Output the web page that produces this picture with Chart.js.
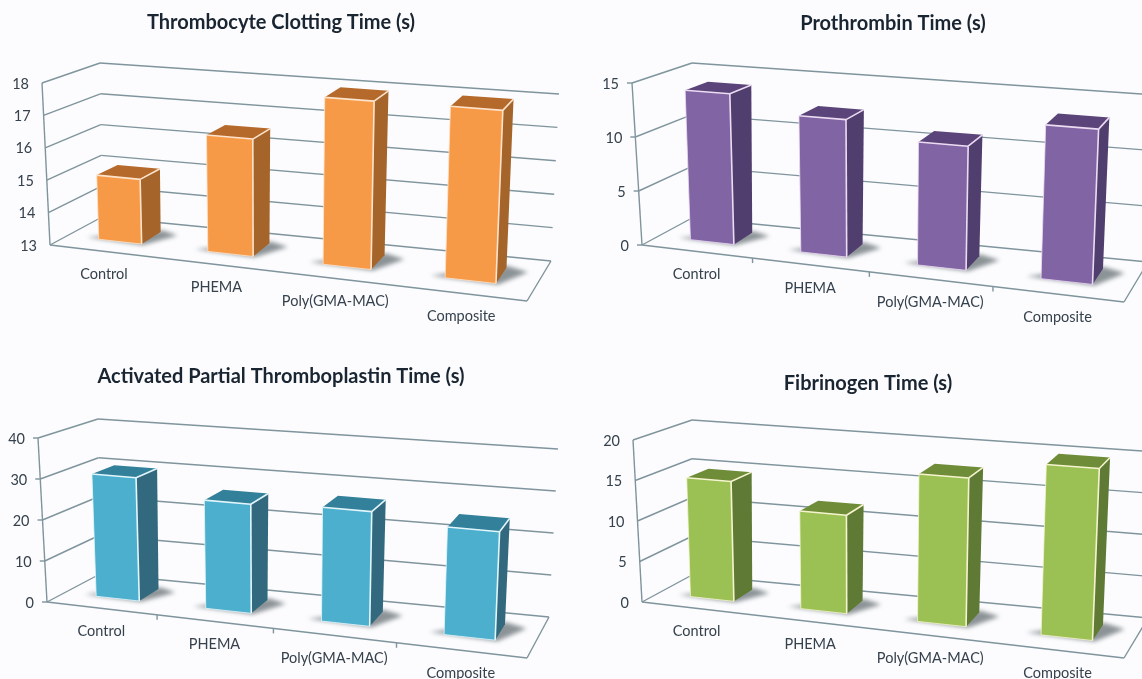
<!DOCTYPE html>
<html lang="en">
<head>
    <meta charset="UTF-8">
    <title>Coagulation times</title>
    <script src="https://cdn.jsdelivr.net/npm/chart.js"></script>
    <style>
        html, body {
            margin: 0;
            width: 1142px;
            height: 679px;
            overflow: hidden;
            background: #fcfcfe;
        }
        canvas {
            position: absolute;
        }
    </style>
</head>
<body>
    <canvas id="thrombocyte" width="562" height="340" style="left:0;top:10px"></canvas>
    <canvas id="prothrombin" width="586" height="340" style="left:600px;top:11px"></canvas>
    <canvas id="aptt" width="562" height="315" style="left:0;top:364px"></canvas>
    <canvas id="fibrinogen" width="556" height="308" style="left:590px;top:371px"></canvas>

    <script>
        const categories = ['Control', 'PHEMA', 'Poly(GMA-MAC)', 'Composite'];

        const thrombocyteValues = [15, 16.55, 17.98, 18];
        const prothrombinValues = [13.95, 12.45, 11, 13.45];
        const apttValues = [30.2, 26.2, 27, 25];
        const fibrinogenValues = [14.8, 11.9, 17.6, 19.9];

        const frontColors = ['#f79a48', '#8164a4', '#4bafcd', '#9bc155'];
        const sideColors = ['#a5642a', '#503e6e', '#33697e', '#5f7a35'];
        const topColors = ['#b56a2b', '#5a4479', '#32809a', '#6f8c38'];
        const edgeColors = ['#fde3cc', '#ecdcf2', '#e2f6fc', '#f6f4cf'];

        const gridColor = '#7f949c';
        const textColor = '#35414c';
        const titleColor = '#1a2532';

        // floor and wall corners of each 3D box, in page pixels
        const boxes = {
            thrombocyte: {
                flb: [50, 245], flt: [42, 83], blb: [102, 217], blt: [100, 63],
                frb: [527, 301], frt: [535, 123], brb: [551, 261], brt: [559, 94]
            },
            prothrombin: {
                flb: [642, 245], flt: [632, 83], blb: [692, 218], blt: [692, 63],
                frb: [1124, 302], frt: [1132, 124], brb: [1148, 262], brt: [1156, 95],
                marks: true
            },
            aptt: {
                flb: [47, 602], flt: [38, 438], blb: [100, 574], blt: [98, 419],
                frb: [527, 658], frt: [535, 480], brb: [549, 617], brt: [558, 449],
                marks: true
            },
            fibrinogen: {
                flb: [642, 602], flt: [633, 440], blb: [692, 575], blt: [692, 420],
                frb: [1124, 658], frt: [1132, 480], brb: [1148, 618], brt: [1156, 452]
            }
        };

        const barFrontDepth = 0.33;
        const barBackDepth = 0.73;
        const foreshorten = 0.12; // categories get wider towards the viewer

        const mix = (a, b, t) => [a[0] + (b[0] - a[0]) * t, a[1] + (b[1] - a[1]) * t];

        // u along the categories, v up the value axis, d from front (0) to back (1)
        function project(box, u, v, d) {
            const s = u / (1 + foreshorten * (1 - u));
            const front = mix(mix(box.flb, box.frb, s), mix(box.flt, box.frt, s), v);
            const back = mix(mix(box.blb, box.brb, s), mix(box.blt, box.brt, s), v);
            return mix(front, back, d);
        }

        function polygon(ctx, pts) {
            ctx.beginPath();
            pts.forEach((p, i) => i ? ctx.lineTo(p[0], p[1]) : ctx.moveTo(p[0], p[1]));
            ctx.closePath();
        }

        function stroke(ctx, a, b) {
            ctx.beginPath();
            ctx.moveTo(a[0], a[1]);
            ctx.lineTo(b[0], b[1]);
            ctx.stroke();
        }

        // walls, floor and tick labels, all taken from the chart's hidden scales
        const walls = {
            id: 'walls',
            beforeDatasetsDraw(chart) {
                const { ctx, chartArea, scales } = chart;
                const box = chart.options.plugins.walls.box;
                const left = chart.canvas.offsetLeft;
                const top = chart.canvas.offsetTop;
                const at = (u, v, d) => {
                    const p = project(box, u, v, d);
                    return [p[0] - left, p[1] - top];
                };

                ctx.save();
                ctx.strokeStyle = gridColor;
                ctx.lineWidth = 1.4;
                ctx.font = '14.5px Lato';
                ctx.fillStyle = textColor;
                ctx.textBaseline = 'middle';

                scales.y.ticks.forEach((tick, i) => {
                    const v = (chartArea.bottom - scales.y.getPixelForTick(i)) / chartArea.height;
                    const corner = at(0, v, 0);
                    stroke(ctx, corner, at(0, v, 1));
                    stroke(ctx, at(0, v, 1), at(1, v, 1));
                    if (box.marks) stroke(ctx, corner, [corner[0] - 5, corner[1]]);
                    ctx.textAlign = 'right';
                    ctx.fillText(tick.label, corner[0] - 13, corner[1] + 1);
                });

                stroke(ctx, at(0, 0, 0), at(0, 1, 0));
                stroke(ctx, at(0, 0, 0), at(1, 0, 0));
                stroke(ctx, at(1, 0, 0), at(1, 0, 1));

                ctx.textAlign = 'center';
                categories.forEach((name, i) => {
                    const u = (scales.x.getPixelForTick(i) - chartArea.left) / chartArea.width;
                    const p = at(u, 0, 0);
                    ctx.fillText(name, p[0], p[1] + 23);
                    if (box.marks && i > 0) {
                        const m = at(i / categories.length, 0, 0);
                        stroke(ctx, m, [m[0], m[1] + 5]);
                    }
                });
                ctx.restore();
            },

            // replaces the flat bars with boxes standing on the floor
            beforeDatasetDraw(chart, args) {
                const { ctx, chartArea } = chart;
                const box = chart.options.plugins.walls.box;
                const shade = chart.options.plugins.walls.shade;
                const left = chart.canvas.offsetLeft;
                const top = chart.canvas.offsetTop;
                const at = (u, v, d) => {
                    const p = project(box, u, v, d);
                    return [p[0] - left, p[1] - top];
                };

                args.meta.data.forEach(bar => {
                    const u0 = (bar.x - bar.width / 2 - chartArea.left) / chartArea.width;
                    const u1 = (bar.x + bar.width / 2 - chartArea.left) / chartArea.width;
                    const v = (chartArea.bottom - bar.y) / chartArea.height;
                    const d0 = barFrontDepth;
                    const d1 = barBackDepth;

                    ctx.save();
                    ctx.filter = 'blur(2px)';
                    ctx.fillStyle = 'rgba(80,90,95,0.65)';
                    polygon(ctx, [at(u0 - 0.03, 0, d0 + 0.02), at(u1 + 0.005, 0, d0 - 0.02),
                        at(u1 + 0.045, 0, d1 - 0.05), at(u1, 0, d1 + 0.05)]);
                    ctx.fill();
                    ctx.restore();

                    ctx.save();
                    ctx.fillStyle = sideColors[shade];
                    polygon(ctx, [at(u1, 0, d0), at(u1, 0, d1), at(u1, v, d1), at(u1, v, d0)]);
                    ctx.fill();
                    ctx.fillStyle = topColors[shade];
                    polygon(ctx, [at(u0, v, d0), at(u1, v, d0), at(u1, v, d1), at(u0, v, d1)]);
                    ctx.fill();
                    ctx.fillStyle = bar.options.backgroundColor;
                    polygon(ctx, [at(u0, 0, d0), at(u1, 0, d0), at(u1, v, d0), at(u0, v, d0)]);
                    ctx.fill();

                    ctx.strokeStyle = edgeColors[shade];
                    ctx.lineWidth = 1.6;
                    stroke(ctx, at(u0, v, d0), at(u1, v, d0));
                    stroke(ctx, at(u1, v, d0), at(u1, 0, d0));
                    stroke(ctx, at(u1, v, d0), at(u1, v, d1));
                    ctx.lineWidth = 0.8;
                    stroke(ctx, at(u0, v, d0), at(u0, 0, d0));
                    stroke(ctx, at(u0, 0, d0), at(u1, 0, d0));
                    ctx.restore();
                });
                return false;
            }
        };

        function makeChart(id, title, values, min, max, step, shade) {
            new Chart(document.getElementById(id), {
                type: 'bar',
                plugins: [walls],
                data: {
                    labels: categories,
                    datasets: [{
                        label: title,
                        data: values,
                        backgroundColor: frontColors[shade],
                        barPercentage: 0.4,
                        categoryPercentage: 1
                    }]
                },
                options: {
                    responsive: false,
                    animation: false,
                    scales: {
                        x: { display: false },
                        y: { display: false, min: min, max: max, ticks: { stepSize: step } }
                    },
                    plugins: {
                        legend: { display: false },
                        tooltip: { enabled: false },
                        title: {
                            display: true,
                            text: title,
                            color: titleColor,
                            padding: 0,
                            font: { family: 'Lato', size: 20, weight: 'bold', lineHeight: 1.25 }
                        },
                        walls: { box: boxes[id], shade: shade }
                    }
                }
            });
        }

        makeChart('thrombocyte', 'Thrombocyte Clotting Time (s)', thrombocyteValues, 13, 18, 1, 0);
        makeChart('prothrombin', 'Prothrombin Time (s)', prothrombinValues, 0, 15, 5, 1);
        makeChart('aptt', 'Activated Partial Thromboplastin Time (s)', apttValues, 0, 40, 10, 2);
        makeChart('fibrinogen', 'Fibrinogen Time (s)', fibrinogenValues, 0, 20, 5, 3);
    </script>
</body>
</html>
